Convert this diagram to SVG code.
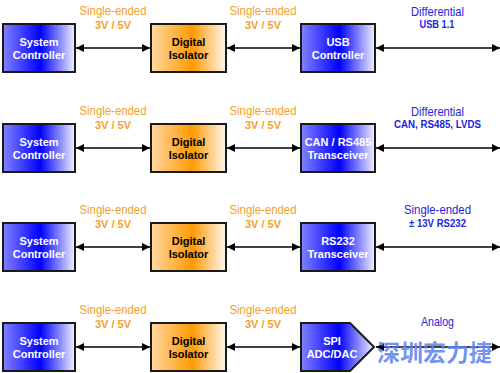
<svg xmlns="http://www.w3.org/2000/svg" width="500" height="373" viewBox="0 0 500 373">
<style>
.box{stroke:#1a1a1a;stroke-width:2}
.bl{fill:url(#gBlue)}
.or{fill:url(#gOrange)}
.nt{font-family:"Liberation Sans",Arial,sans-serif;font-size:11px;font-weight:bold;text-anchor:middle}
.w{fill:#ffffff}
.k{fill:#000000}
.se{font-family:"Liberation Sans",Arial,sans-serif;font-size:12.5px;text-anchor:middle}
.sub{font-family:"Liberation Sans",Arial,sans-serif;font-weight:bold;text-anchor:middle}
.o{fill:#f5a02a}
.b{fill:#2424dd}
.con line{stroke:#000;stroke-width:1.5;marker-start:url(#ah);marker-end:url(#ah)}
</style>
<defs>
<linearGradient id="gBlue" x1="0" y1="0" x2="1" y2="0">
<stop offset="0" stop-color="#8282ff"/>
<stop offset="0.52" stop-color="#0000ff"/>
<stop offset="1" stop-color="#f2f2ff"/>
</linearGradient>
<linearGradient id="gOrange" x1="0" y1="0" x2="1" y2="0">
<stop offset="0" stop-color="#ffd8a0"/>
<stop offset="0.55" stop-color="#ff9a05"/>
<stop offset="1" stop-color="#fff8f0"/>
</linearGradient>
<marker id="ah" viewBox="0 0 8 8" refX="8" refY="4" markerWidth="8" markerHeight="8" markerUnits="userSpaceOnUse" orient="auto-start-reverse">
<path d="M0,0 L8,4 L0,8 Z" fill="#000"/>
</marker>
</defs>
<rect width="500" height="373" fill="#ffffff"/>

<g class="con" id="connectors">
<line x1="76" y1="48" x2="150" y2="48"/>
<line x1="227" y1="48" x2="300" y2="48"/>
<line x1="376" y1="48" x2="500" y2="48"/>
<line x1="76" y1="148" x2="150" y2="148"/>
<line x1="227" y1="148" x2="300" y2="148"/>
<line x1="376" y1="148" x2="500" y2="148"/>
<line x1="76" y1="247" x2="150" y2="247"/>
<line x1="227" y1="247" x2="300" y2="247"/>
<line x1="376" y1="247" x2="500" y2="247"/>
<line x1="76" y1="347" x2="150" y2="347"/>
<line x1="227" y1="347" x2="300" y2="347"/>
<line x1="376" y1="347" x2="500" y2="347"/>
</g>

<!-- Row 1 -->
<g id="sys1"><rect class="box bl" x="3" y="24" width="72" height="48"/><text class="nt w" x="39" y="46">System</text><text class="nt w" x="39" y="58.5">Controller</text></g>
<g id="iso1"><rect class="box or" x="151" y="24" width="75" height="48"/><text class="nt k" x="188.5" y="46">Digital</text><text class="nt k" x="188.5" y="58.5">Isolator</text></g>
<g id="usb"><rect class="box bl" x="301" y="24" width="74" height="48"/><text class="nt w" x="338" y="46">USB</text><text class="nt w" x="338" y="58.5">Controller</text></g>

<!-- Row 2 -->
<g id="sys2"><rect class="box bl" x="3" y="124" width="72" height="48"/><text class="nt w" x="39" y="146">System</text><text class="nt w" x="39" y="158.5">Controller</text></g>
<g id="iso2"><rect class="box or" x="151" y="124" width="75" height="48"/><text class="nt k" x="188.5" y="146">Digital</text><text class="nt k" x="188.5" y="158.5">Isolator</text></g>
<g id="can"><rect class="box bl" x="301" y="124" width="74" height="48"/><text class="nt w" x="338" y="146">CAN / RS485</text><text class="nt w" x="338" y="158.5">Transceiver</text></g>

<!-- Row 3 -->
<g id="sys3"><rect class="box bl" x="3" y="223" width="72" height="48"/><text class="nt w" x="39" y="245">System</text><text class="nt w" x="39" y="257.5">Controller</text></g>
<g id="iso3"><rect class="box or" x="151" y="223" width="75" height="48"/><text class="nt k" x="188.5" y="245">Digital</text><text class="nt k" x="188.5" y="257.5">Isolator</text></g>
<g id="rs232"><rect class="box bl" x="301" y="223" width="74" height="48"/><text class="nt w" x="338" y="245">RS232</text><text class="nt w" x="338" y="257.5">Transceiver</text></g>

<!-- Row 4 -->
<g id="sys4"><rect class="box bl" x="3" y="323" width="72" height="48"/><text class="nt w" x="39" y="345">System</text><text class="nt w" x="39" y="357.5">Controller</text></g>
<g id="iso4"><rect class="box or" x="151" y="323" width="75" height="48"/><text class="nt k" x="188.5" y="345">Digital</text><text class="nt k" x="188.5" y="357.5">Isolator</text></g>
<g id="spi"><polygon class="box bl" points="301,323 350,323 374,347 350,371 301,371"/><text class="nt w" x="332" y="345">SPI</text><text class="nt w" x="332" y="357.5">ADC/DAC</text></g>

<g id="labels">
<text class="se o" x="113" y="14.5" textLength="67" lengthAdjust="spacingAndGlyphs">Single-ended</text>
<text class="sub o" style="font-size:11px" x="113" y="29" textLength="36" lengthAdjust="spacingAndGlyphs">3V / 5V</text>
<text class="se o" x="263" y="14.5" textLength="67" lengthAdjust="spacingAndGlyphs">Single-ended</text>
<text class="sub o" style="font-size:11px" x="263" y="29" textLength="36" lengthAdjust="spacingAndGlyphs">3V / 5V</text>
<text class="se b" style="font-size:13px" x="437.5" y="15.5" textLength="53" lengthAdjust="spacingAndGlyphs">Differential</text>
<text class="sub b" style="font-size:10px" x="437" y="27.5" textLength="35" lengthAdjust="spacingAndGlyphs">USB 1.1</text>

<text class="se o" x="113" y="114.5" textLength="67" lengthAdjust="spacingAndGlyphs">Single-ended</text>
<text class="sub o" style="font-size:11px" x="113" y="129" textLength="36" lengthAdjust="spacingAndGlyphs">3V / 5V</text>
<text class="se o" x="263" y="114.5" textLength="67" lengthAdjust="spacingAndGlyphs">Single-ended</text>
<text class="sub o" style="font-size:11px" x="263" y="129" textLength="36" lengthAdjust="spacingAndGlyphs">3V / 5V</text>
<text class="se b" style="font-size:13px" x="437.5" y="115.5" textLength="53" lengthAdjust="spacingAndGlyphs">Differential</text>
<text class="sub b" style="font-size:10px" x="437.5" y="127.5" textLength="87" lengthAdjust="spacingAndGlyphs">CAN, RS485, LVDS</text>

<text class="se o" x="113" y="213.5" textLength="67" lengthAdjust="spacingAndGlyphs">Single-ended</text>
<text class="sub o" style="font-size:11px" x="113" y="228" textLength="36" lengthAdjust="spacingAndGlyphs">3V / 5V</text>
<text class="se o" x="263" y="213.5" textLength="67" lengthAdjust="spacingAndGlyphs">Single-ended</text>
<text class="sub o" style="font-size:11px" x="263" y="228" textLength="36" lengthAdjust="spacingAndGlyphs">3V / 5V</text>
<text class="se b" x="437.5" y="213.5" textLength="67" lengthAdjust="spacingAndGlyphs">Single-ended</text>
<text class="sub b" style="font-size:10px" x="437.5" y="226.5" textLength="57" lengthAdjust="spacingAndGlyphs">± 13V RS232</text>

<text class="se o" x="113" y="313.5" textLength="67" lengthAdjust="spacingAndGlyphs">Single-ended</text>
<text class="sub o" style="font-size:11px" x="113" y="328" textLength="36" lengthAdjust="spacingAndGlyphs">3V / 5V</text>
<text class="se o" x="263" y="313.5" textLength="67" lengthAdjust="spacingAndGlyphs">Single-ended</text>
<text class="sub o" style="font-size:11px" x="263" y="328" textLength="36" lengthAdjust="spacingAndGlyphs">3V / 5V</text>
<text class="se b" x="437.5" y="326" textLength="33" lengthAdjust="spacingAndGlyphs">Analog</text>
</g>

<text x="434.5" y="361" fill="#5f86f0" fill-opacity="0.9" font-family="'Noto Sans CJK SC',sans-serif" font-weight="bold" font-size="23" text-anchor="middle" textLength="115" lengthAdjust="spacingAndGlyphs">深圳宏力捷</text>
</svg>
